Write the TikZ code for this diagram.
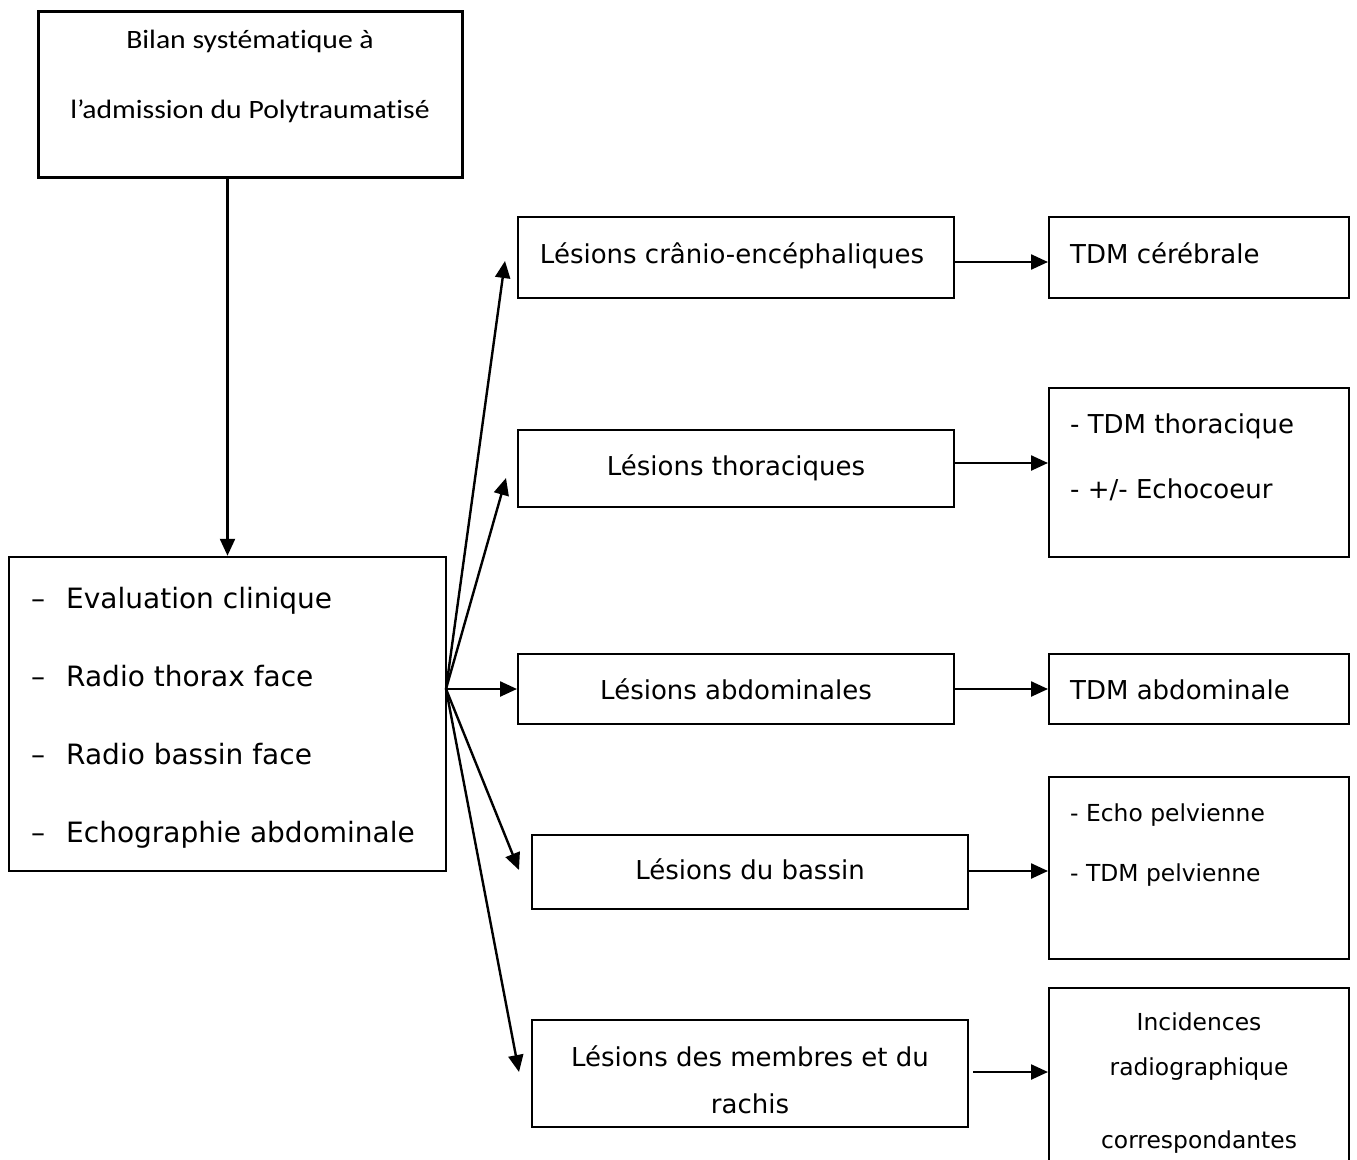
\documentclass[tikz,border=0pt]{standalone}
\usepackage{fontspec}
\setmainfont{DejaVu Sans}
\newfontfamily\calibri[FakeStretch=1.12,Ligatures=NoCommon]{Carlito}
\usetikzlibrary{arrows.meta}
\tikzset{
  box/.style={draw, line width=2pt, rectangle, inner sep=0pt, minimum width=#1},
  box/.default=436pt,
  arr/.style={line width=2.4pt, -{Triangle[length=17pt,width=15pt]}},
  lbl/.style={inner sep=0pt, anchor=base},
  lblw/.style={inner sep=0pt, anchor=base west},
}
\newcommand{\fsA}{\fontsize{28}{34}\selectfont}
\newcommand{\fsB}{\fontsize{26}{31}\selectfont}
\newcommand{\fsC}{\fontsize{23.4}{28}\selectfont}
\begin{document}
\begin{tikzpicture}[x=1pt,y=-1pt]
\useasboundingbox (0,0) rectangle (1357,1159);
% boxes
\node[box=424pt, line width=3pt, minimum height=166pt] (top) at (250,94.5) {};
\node[box=437pt, line width=2.5pt, minimum height=314pt] (left) at (227.5,714) {};
\node[box, minimum height=81pt] (c1) at (736,257.5) {};
\node[box, minimum height=77pt] (c2) at (736,468.5) {};
\node[box, minimum height=70pt] (c3) at (736,689) {};
\node[box, minimum height=74pt] (c4) at (750,872) {};
\node[box, minimum height=107pt] (c5) at (750,1073.5) {};
\node[box=300pt, minimum height=81pt] (r1) at (1199,257.5) {};
\node[box=300pt, minimum height=169pt] (r2) at (1199,472.5) {};
\node[box=300pt, minimum height=70pt] (r3) at (1199,689) {};
\node[box=300pt, minimum height=182pt] (r4) at (1199,868) {};
\node[box=300pt, minimum height=175pt] (r5) at (1199,1075.5) {};
% texts
\node[lbl] (t1) at (250,48) {\calibri\fontsize{26.5}{30}\selectfont Bilan systématique à};
\node[lbl] (t2) at (250,118) {\calibri\fontsize{26.5}{30}\selectfont l’admission du Polytraumatisé};
\node[lblw] (l1) at (31,608) {\fsA\makebox[35pt][l]{–}Evaluation clinique};
\node[lblw] (l2) at (31,686) {\fsA\makebox[35pt][l]{–}Radio thorax face};
\node[lblw] (l3) at (31,764) {\fsA\makebox[35pt][l]{–}Radio bassin face};
\node[lblw] (l4) at (31,842) {\fsA\makebox[35pt][l]{–}Echographie abdominale};
\node[lbl] (m1) at (732,263) {\fsB Lésions crânio-encéphaliques};
\node[lbl] (m2) at (736,475) {\fsB Lésions thoraciques};
\node[lbl] (m3) at (736,699) {\fsB Lésions abdominales};
\node[lbl] (m4) at (750,879) {\fsB Lésions du bassin};
\node[lbl] (m5) at (750,1066) {\fsB Lésions des membres et du};
\node[lbl] (m6) at (750,1113) {\fsB rachis};
\node[lblw] (n1) at (1070,263) {\fsB TDM cérébrale};
\node[lblw] (n2) at (1070,433.5) {\fsB - TDM thoracique};
\node[lblw] (n3) at (1070,498.5) {\fsB - +/- Echocoeur};
\node[lblw] (n4) at (1070,699) {\fsB TDM abdominale};
\node[lblw] (n5) at (1070,821) {\fsC - Echo pelvienne};
\node[lblw] (n6) at (1070,881.5) {\fsC - TDM pelvienne};
\node[lbl] (n7) at (1199,1030) {\fsC Incidences};
\node[lbl] (n8) at (1199,1075) {\fsC radiographique};
\node[lbl] (n9) at (1199,1148) {\fsC correspondantes};
% connectors
\draw[arr] (top.south -| left.north) -- (left.north);
\coordinate (fan) at (446,689);
\coordinate (e1) at (505,261);
\coordinate (e2) at (506,478);
\coordinate (e4) at (519,870);
\coordinate (e5) at (519,1072);
\draw[arr] (fan) -- (e1);
\draw[arr] (fan) -- (e2);
\draw[arr] (fan) -- (c3.west);
\draw[arr] (fan) -- (e4);
\draw[arr] (fan) -- (e5);
\draw[arr] ([yshift=-4.5pt]c1.east) -- ([yshift=-4.5pt]c1.east -| r1.west);
\draw[arr] ([yshift=5.5pt]c2.east) -- ([yshift=5.5pt]c2.east -| r2.west);
\draw[arr] (c3.east) -- (r3.west);
\draw[arr] ([yshift=1pt]c4.east) -- ([yshift=1pt]c4.east -| r4.west);
\draw[arr] ([xshift=4pt,yshift=1.5pt]c5.east) -- ([yshift=1.5pt]c5.east -| r5.west);
\end{tikzpicture}
\end{document}
